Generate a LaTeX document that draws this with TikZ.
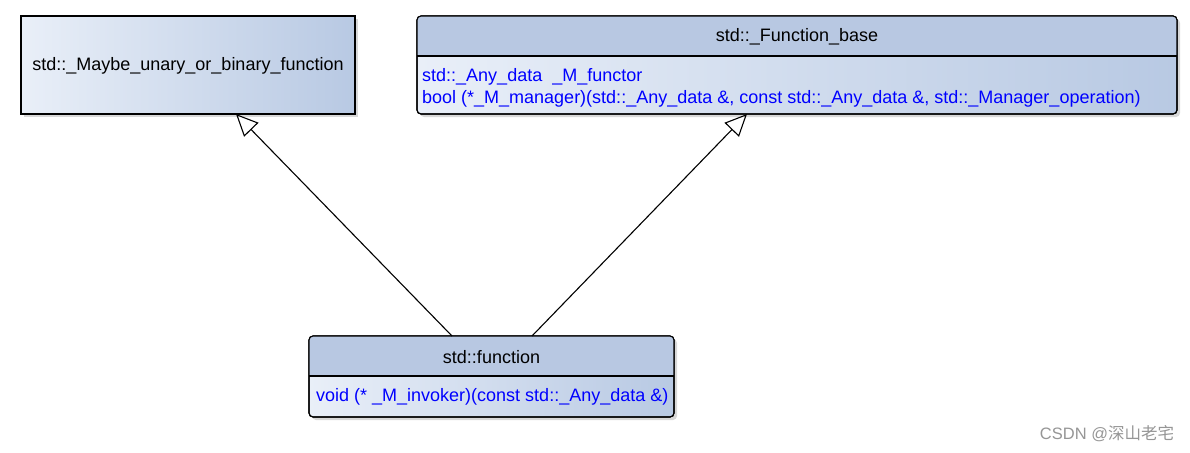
\documentclass[tikz,border=0pt]{standalone}
\usepackage{fontspec}
\setmainfont{Liberation Sans}
\newfontfamily\wmfont{Noto Sans CJK SC}
\usetikzlibrary{arrows.meta,shadows}
\definecolor{bodyL}{RGB}{233,239,248}
\definecolor{bodyR}{RGB}{184,201,227}
\definecolor{headC}{RGB}{184,200,226}
\definecolor{memC}{RGB}{0,0,255}
\definecolor{wmC}{RGB}{150,150,150}
\tikzset{
  boxbase/.style={draw=black, line width=1.1pt, inner sep=0pt, outer sep=0pt,
    left color=bodyL, right color=bodyR,
    drop shadow={shadow xshift=3pt, shadow yshift=-3pt, opacity=0.25, fill=black!60}},
  plainbox/.style={boxbase},
  roundbox/.style={boxbase, rounded corners=4pt},
  lbl/.style={inner sep=0pt, font=\fontsize{18}{20}\selectfont, text=black},
  mem/.style={inner sep=0pt, anchor=west, font=\fontsize{18}{20}\selectfont, text=memC},
  inh/.style={draw=black, line width=1.1pt, -{Triangle[open, length=22pt, width=20pt, line width=1.1pt]}},
}
\begin{document}
\begin{tikzpicture}[x=1pt,y=-1pt]
\useasboundingbox[fill=white] (0,0) rectangle (1190,452);
% left class
\node[plainbox, minimum width=334pt, minimum height=98pt] (mb) at (188,65) {};
\node[lbl] (mbl) at (188,66) {std::\_Maybe\_unary\_or\_binary\_function};
% right class
\node[roundbox, minimum width=760pt, minimum height=98pt] (fb) at (797,65) {};
\begin{scope}
  \clip[rounded corners=4pt] (fb.north west) rectangle (fb.south east);
  \fill[headC] (fb.north west) rectangle ([yshift=-40pt]fb.north east);
\end{scope}
\draw[line width=1.1pt] ([yshift=-40pt]fb.north west) -- ([yshift=-40pt]fb.north east);
\draw[line width=1.1pt, rounded corners=4pt] (fb.north west) rectangle (fb.south east);
\node[lbl] (fbl) at (797,37) {std::\_Function\_base};
\node[mem] (fbm1) at (422,77) {std::\_Any\_data\ \ \_M\_functor};
\node[mem] (fbm2) at (422,99) {bool (*\_M\_manager)(std::\_Any\_data \&, const std::\_Any\_data \&, std::\_Manager\_operation)};
% bottom class
\node[roundbox, minimum width=365pt, minimum height=81pt] (fn) at (491.5,376.5) {};
\begin{scope}
  \clip[rounded corners=4pt] (fn.north west) rectangle (fn.south east);
  \fill[headC] (fn.north west) rectangle ([yshift=-40pt]fn.north east);
\end{scope}
\draw[line width=1.1pt] ([yshift=-40pt]fn.north west) -- ([yshift=-40pt]fn.north east);
\draw[line width=1.1pt, rounded corners=4pt] (fn.north west) rectangle (fn.south east);
\node[lbl] (fnl) at (491.5,357) {std::function};
\node[mem] (fnm) at (316,397) {void (* \_M\_invoker)(const std::\_Any\_data \&)};
% inheritance
\draw[inh] ([xshift=143pt]fn.north west) -- ([xshift=215pt]mb.south west);
\draw[inh] ([xshift=223pt]fn.north west) -- ([xshift=330pt]fb.south west);
% watermark
\node[inner sep=0pt, text=wmC, font=\fontsize{16.5}{18}\selectfont] (wm) at (1107,434) {CSDN @{\wmfont 深山老宅}};
\end{tikzpicture}
\end{document}
